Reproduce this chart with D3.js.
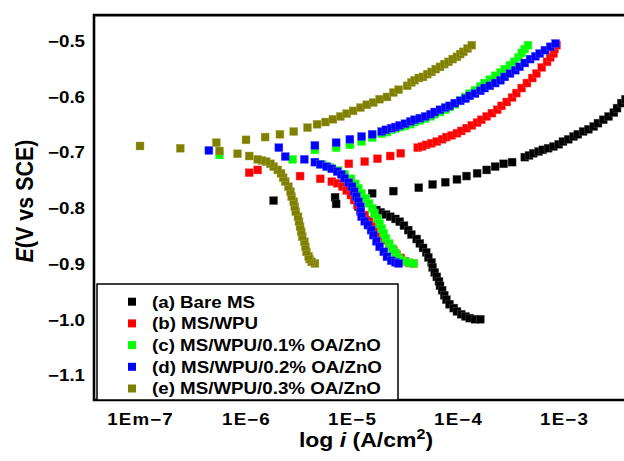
<!DOCTYPE html>
<html><head><meta charset="utf-8">
<script src="https://cdn.jsdelivr.net/npm/d3@7"></script>
<style>
body{margin:0;background:#fff}
svg{display:block}
text{font-family:"Liberation Sans",Arial,Helvetica,sans-serif;font-weight:bold;fill:#000}
</style>
</head><body>
<svg id="chart" width="624" height="461"></svg>
<script>
// ---------- data (log10 i in A/cm2, E in V vs SCE) ----------
const seriesNames = ["(a) Bare MS","(b) MS/WPU","(c) MS/WPU/0.1% OA/ZnO","(d) MS/WPU/0.2% OA/ZnO","(e) MS/WPU/0.3% OA/ZnO"];
const seriesColors = ["#000000","#ff0000","#00ff00","#0000ff","#808000"];

const aLogI = [-5.74,-5.16,-5.15,-4.94,-4.81,
 -4.61,-4.37,-4.24,-4.12,-4.01,-3.92,-3.82,-3.73,-3.65,-3.57,-3.49,-3.37,-3.33,-3.29,-3.24,-3.20,-3.15,-3.10,-3.05,-3.01,-2.96,-2.91,-2.87,-2.82,-2.77,-2.72,-2.68,-2.63,-2.58,-2.53,-2.50,-2.46,-2.42,
 -4.77,-4.73,-4.68,-4.64,-4.59,-4.55,-4.51,-4.47,-4.44,-4.39,-4.36,-4.33,-4.30,-4.28,-4.25,-4.24,-4.22,-4.20,-4.18,-4.17,-4.15,-4.13,-4.11,-4.08,-4.04,-4.01,-3.97,-3.93,-3.89,-3.84,-3.79];
const aE = [-0.787,-0.781,-0.793,-0.798,-0.774,
 -0.770,-0.764,-0.758,-0.754,-0.749,-0.743,-0.738,-0.732,-0.726,-0.721,-0.718,-0.709,-0.706,-0.702,-0.699,-0.696,-0.693,-0.690,-0.686,-0.681,-0.677,-0.672,-0.668,-0.663,-0.659,-0.654,-0.648,-0.642,-0.636,-0.629,-0.621,-0.612,-0.605,
 -0.804,-0.808,-0.812,-0.816,-0.820,-0.825,-0.832,-0.840,-0.848,-0.856,-0.864,-0.872,-0.880,-0.889,-0.898,-0.907,-0.916,-0.924,-0.932,-0.940,-0.948,-0.957,-0.965,-0.973,-0.980,-0.986,-0.991,-0.995,-0.998,-1.000,-1.000];

const bLogI = [-5.97,-5.89,-5.49,-5.30,-5.19,
 -5.14,-5.09,-5.05,-5.01,-4.98,-4.95,-4.92,-4.88,-4.84,-4.80,-4.76,-4.73,-4.69,-4.65,-4.61,-4.58,-4.54,-4.50,-4.46,-4.42,
 -5.03,-4.88,-4.76,-4.64,-4.54,-4.38,-4.34,-4.30,-4.25,-4.20,-4.15,-4.11,-4.06,-4.01,-3.97,-3.92,-3.87,-3.82,-3.78,-3.73,-3.68,-3.63,-3.59,-3.54,-3.49,-3.45,-3.40,-3.35,-3.30,-3.26,-3.21,-3.16,-3.13,-3.10,-3.09,-3.07];
const bE = [-0.737,-0.732,-0.743,-0.748,-0.753,
 -0.756,-0.762,-0.769,-0.777,-0.786,-0.795,-0.804,-0.813,-0.822,-0.831,-0.840,-0.849,-0.858,-0.867,-0.876,-0.884,-0.890,-0.896,-0.899,-0.900,
 -0.721,-0.717,-0.712,-0.707,-0.702,-0.692,-0.690,-0.687,-0.684,-0.681,-0.677,-0.673,-0.670,-0.666,-0.662,-0.657,-0.652,-0.647,-0.642,-0.636,-0.630,-0.624,-0.617,-0.610,-0.602,-0.594,-0.585,-0.576,-0.567,-0.559,-0.548,-0.538,-0.530,-0.523,-0.515,-0.508];

const cLogI = [-6.25,-5.56,-5.35,-5.15,-5.02,
 -4.91,-4.81,-4.72,-4.67,-4.63,-4.59,-4.55,-4.50,-4.45,-4.41,-4.36,-4.31,-4.26,-4.22,-4.17,-4.12,-4.08,-4.03,-3.98,-3.93,-3.89,-3.84,-3.79,-3.75,-3.70,-3.65,-3.60,-3.56,-3.51,-3.47,-3.43,-3.40,-3.37,-3.34,
 -5.28,-5.21,-5.13,-5.07,-5.01,-4.97,-4.94,-4.91,-4.87,-4.84,-4.81,-4.79,-4.76,-4.74,-4.72,-4.70,-4.68,-4.65,-4.62,-4.59,-4.56,-4.52,-4.47,-4.42];
const cE = [-0.705,-0.713,-0.696,-0.692,-0.687,
 -0.681,-0.674,-0.667,-0.664,-0.660,-0.658,-0.655,-0.653,-0.650,-0.646,-0.643,-0.640,-0.636,-0.632,-0.628,-0.624,-0.619,-0.614,-0.607,-0.601,-0.595,-0.589,-0.582,-0.576,-0.570,-0.563,-0.557,-0.551,-0.544,-0.538,-0.530,-0.522,-0.515,-0.508,
 -0.722,-0.727,-0.733,-0.740,-0.748,-0.757,-0.765,-0.774,-0.783,-0.792,-0.801,-0.810,-0.819,-0.828,-0.837,-0.846,-0.855,-0.864,-0.873,-0.881,-0.889,-0.895,-0.898,-0.900];

const dLogI = [-6.35,-5.69,-5.63,-5.45,-5.35,
 -5.35,-5.30,-5.24,-5.19,-5.14,-5.10,-5.07,-5.03,-5.00,-4.98,-4.96,-4.94,-4.92,-4.92,-4.91,-4.88,-4.85,-4.82,-4.80,-4.77,-4.74,-4.70,-4.67,-4.63,-4.59,-4.56,
 -5.15,-5.02,-4.91,-4.81,-4.72,-4.68,-4.63,-4.59,-4.55,-4.50,-4.45,-4.41,-4.36,-4.31,-4.26,-4.22,-4.17,-4.12,-4.08,-4.03,-3.98,-3.93,-3.89,-3.84,-3.79,-3.75,-3.70,-3.65,-3.60,-3.56,-3.51,-3.46,-3.42,-3.37,-3.32,-3.27,-3.23,-3.18,-3.13,-3.08];
const dE = [-0.697,-0.692,-0.708,-0.713,-0.688,
 -0.718,-0.722,-0.726,-0.730,-0.735,-0.740,-0.747,-0.755,-0.762,-0.771,-0.780,-0.789,-0.798,-0.807,-0.816,-0.824,-0.831,-0.840,-0.849,-0.860,-0.870,-0.879,-0.888,-0.895,-0.898,-0.900,
 -0.683,-0.677,-0.672,-0.668,-0.663,-0.660,-0.657,-0.655,-0.652,-0.649,-0.645,-0.642,-0.639,-0.636,-0.632,-0.628,-0.624,-0.620,-0.617,-0.612,-0.608,-0.604,-0.599,-0.595,-0.590,-0.585,-0.581,-0.576,-0.571,-0.565,-0.559,-0.553,-0.547,-0.540,-0.533,-0.528,-0.523,-0.517,-0.511,-0.505];

const eLogI = [-5.35,-5.38,-5.40,-5.41,-5.43,-5.44,-5.45,-5.47,-5.48,-5.49,-5.50,-5.51,-5.53,-5.54,-5.55,-5.57,-5.58,-5.60,-5.63,-5.65,-5.67,-5.70,-5.74,-5.77,-5.81,-5.85,-5.89,-5.97,
 -6.08,-6.25,-6.62,-7.00,-6.28,
 -6.00,-5.82,-5.68,-5.55,-5.42,-5.33,-5.25,-5.18,-5.11,-5.05,-4.99,-4.92,-4.86,-4.80,-4.74,-4.67,-4.61,-4.56,-4.48,-4.44,-4.41,-4.37,-4.33,-4.29,-4.25,-4.21,-4.17,-4.13,-4.09,-4.05,-4.01,-3.98,-3.95,-3.91,-3.87];
const eE = [-0.900,-0.897,-0.892,-0.887,-0.879,-0.870,-0.861,-0.852,-0.843,-0.834,-0.825,-0.816,-0.807,-0.798,-0.789,-0.780,-0.771,-0.762,-0.753,-0.746,-0.738,-0.732,-0.726,-0.721,-0.717,-0.715,-0.713,-0.707,
 -0.703,-0.698,-0.693,-0.689,-0.683,
 -0.678,-0.673,-0.668,-0.663,-0.656,-0.650,-0.646,-0.641,-0.636,-0.631,-0.626,-0.620,-0.615,-0.611,-0.605,-0.601,-0.593,-0.588,-0.581,-0.575,-0.571,-0.567,-0.565,-0.560,-0.556,-0.551,-0.547,-0.542,-0.538,-0.533,-0.529,-0.524,-0.520,-0.514,-0.508];

const xTickValues = [-7,-6,-5,-4,-3];
const xTickLabels = ["1Em\u22127","1E\u22126","1E\u22125","1E\u22124","1E\u22123"];
const yTickValues = [-0.5,-0.6,-0.7,-0.8,-0.9,-1.0,-1.1];
const yTickLabels = ["\u22120.5","\u22120.6","\u22120.7","\u22120.8","\u22120.9","\u22121.0","\u22121.1"];

// ---------- drawing ----------
const SX = 1.15; // horizontal stretch of the original lettering
const svg = d3.select("#chart");
const x = d3.scaleLinear().domain([-7.434, -1.906]).range([94, 680]);
const y = d3.scaleLinear().domain([-1.145, -0.454]).range([400, 15.08]);

const series = [
  {xs:aLogI, ys:aE}, {xs:bLogI, ys:bE}, {xs:cLogI, ys:cE}, {xs:dLogI, ys:dE}, {xs:eLogI, ys:eE}
].map((s,i)=>({name:seriesNames[i], color:seriesColors[i], pts:s.xs.map((v,j)=>[v, s.ys[j]])}));

const M = 8;
series.forEach(s=>{
  const light = d3.interpolateRgb(s.color, "#ffffff")(0.35);
  svg.append("g").selectAll("rect").data(s.pts).join("rect")
    .attr("x", d=>x(d[0]) - M/2).attr("y", d=>y(d[1]) - M/2)
    .attr("width", M).attr("height", M)
    .attr("fill", s.color).attr("stroke", light).attr("stroke-width", 0.4);
});

// frame
const x0 = x(-7.434), yT = y(-0.454), yB = y(-1.145), xR = x(-1.906);
svg.append("path").attr("d", `M${xR},${yT}H${x0}V${yB}H${xR}`)
  .attr("fill","none").attr("stroke","#000").attr("stroke-width",2.6);

// y axis
const yAxis = d3.axisLeft(y).tickValues(yTickValues).tickSize(0)
  .tickFormat((d,i)=>yTickLabels[i]);
const gy = svg.append("g").attr("transform",`translate(${x0},0)`).call(yAxis);
gy.select(".domain").remove();
gy.selectAll("text").attr("x", -9/SX).attr("dy","0.36em")
  .attr("transform",`scale(${SX},1)`)
  .style("font-size","16.3px").style("font-family",'"Liberation Sans",Arial,sans-serif').style("font-weight","bold").attr("fill","#000");

// x axis
const xAxis = d3.axisBottom(x).tickValues(xTickValues).tickSize(0)
  .tickFormat((d,i)=>xTickLabels[i]);
const gx = svg.append("g").attr("transform",`translate(0,${yB})`).call(xAxis);
gx.select(".domain").remove();
gx.selectAll("text").attr("y", 25).attr("dy", 0)
  .attr("transform",`scale(${SX},1)`)
  .style("letter-spacing","1px")
  .style("font-size","16.3px").style("font-family",'"Liberation Sans",Arial,sans-serif').style("font-weight","bold").attr("fill","#000");

// axis titles
const xt = svg.append("text").attr("transform",`translate(366,447) scale(${SX},1)`)
  .attr("text-anchor","middle").style("font-size","20px");
xt.append("tspan").text("log ");
xt.append("tspan").style("font-style","italic").text("i");
xt.append("tspan").text(" (A/cm");
xt.append("tspan").attr("dy","-8").style("font-size","14px").text("2");
xt.append("tspan").attr("dy","8").text(")");

const yt = svg.append("text").attr("transform",`translate(24,201) scale(${SX},1) rotate(-90)`)
  .attr("text-anchor","middle").attr("dy","0.36em").style("font-size","21.5px");
yt.append("tspan").style("font-style","italic").text("E");
yt.append("tspan").text("(V vs SCE)");

// legend
const lg = svg.append("g");
lg.append("rect").attr("x",97).attr("y",284).attr("width",301).attr("height",yB-284)
  .attr("fill","#fff").attr("stroke","#000").attr("stroke-width",1.5);
series.forEach((s,i)=>{
  const cy = 301.7 + i*21.7;
  lg.append("rect").attr("x",128).attr("y",cy-4).attr("width",8).attr("height",8).attr("fill",s.color);
  lg.append("text").attr("transform",`translate(152,${cy}) scale(${SX},1)`).attr("dy","0.36em")
    .style("font-size","16.3px").text(s.name);
});
</script>
</body></html>
